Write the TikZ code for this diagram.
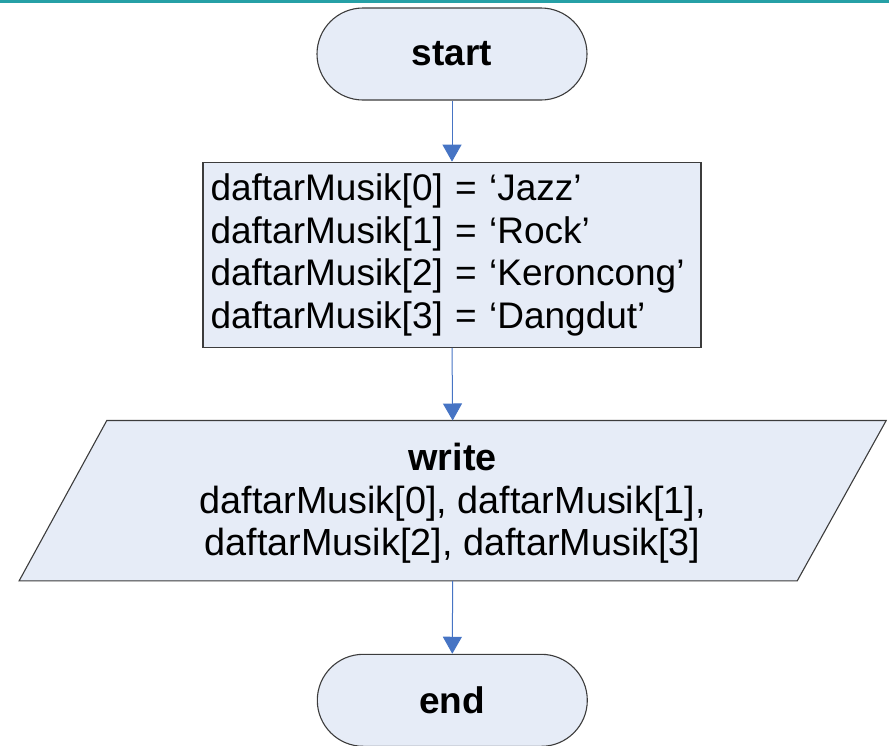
\documentclass[tikz,border=0pt]{standalone}
\usepackage{fontspec}
\setmainfont{Liberation Sans}
\usetikzlibrary{arrows.meta,shapes.misc}
\definecolor{boxfill}{RGB}{230,236,247}
\definecolor{boxline}{RGB}{60,60,60}
\definecolor{arrowblue}{RGB}{70,116,196}
\definecolor{teal}{RGB}{38,160,166}
\begin{document}
\begin{tikzpicture}[x=1pt,y=1pt,
  txt/.style={font=\fontsize{37}{42.5}\selectfont},
  terminal/.style={rounded rectangle, draw=boxline, fill=boxfill, line width=1.1pt,
    minimum width=270, minimum height=92, inner sep=0pt, txt, font=\fontsize{37}{42.5}\selectfont\bfseries},
  procbox/.style={rectangle, draw=boxline, fill=boxfill, line width=1.1pt,
    minimum width=498, minimum height=185, inner xsep=7.5pt, inner ysep=0pt,
    text width=483, align=left, txt},
  iobox/.style={rectangle, minimum width=866.7, minimum height=160, inner sep=0pt,
    align=center, txt},
  arr/.style={draw=arrowblue, line width=1pt, -{Triangle[length=17pt,width=19pt]}}
]
\useasboundingbox (0,0) rectangle (889,-745);
\fill[teal] (0,0) rectangle (889,-2.8);

\node[terminal] (start) at (452,-54) {start};
\node[procbox] (init) at (452,-254.7) {daftarMusik[0] = ‘Jazz’\\daftarMusik[1] = ‘Rock’\\daftarMusik[2] = ‘Keroncong’\\daftarMusik[3] = ‘Dangdut’};
\node[iobox] (write) at (452.65,-500.7) {};
\fill[boxfill] ([xshift=87.7]write.north west) -- (write.north east) -- ([xshift=-89]write.south east) -- (write.south west) -- cycle;
\draw[boxline, line width=1.1pt, line join=miter] ([xshift=87.7]write.north west) -- (write.north east) -- ([xshift=-89]write.south east) -- (write.south west) -- cycle;
\node[align=center, font=\fontsize{37.8}{42.5}\selectfont] (writetext) at ([yshift=-3]write.center) {\textbf{write}\\daftarMusik[0], daftarMusik[1],\\daftarMusik[2], daftarMusik[3]};
\node[terminal] (end) at (452.3,-700.3) {end};

\draw[arr] (start.south) -- (init.north);
\draw[arr] (init.south) -- (write.north);
\draw[arr] (write.south) -- (end.north);
\end{tikzpicture}
\end{document}
